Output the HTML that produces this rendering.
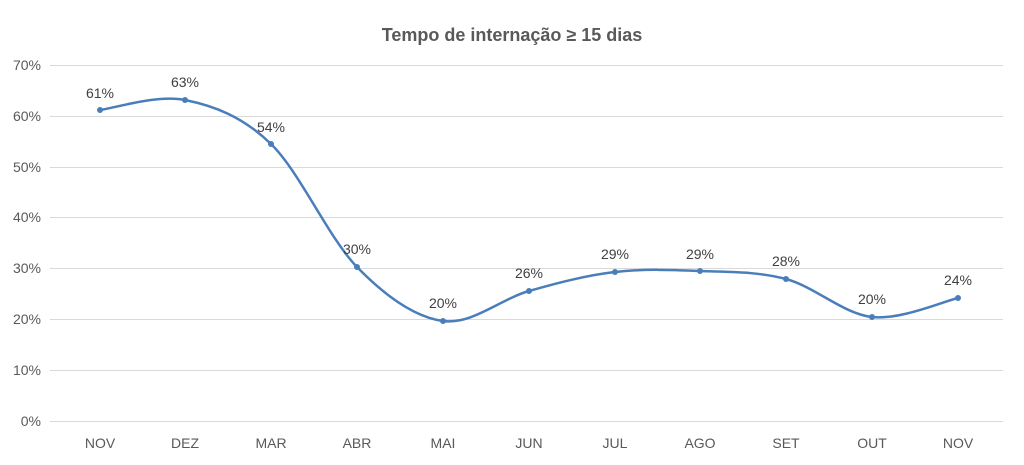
<!DOCTYPE html>
<html><head><meta charset="utf-8"><style>
html,body{margin:0;padding:0;background:#fff;}
svg{display:block;font-family:"Liberation Sans",Arial,sans-serif;}
</style></head><body>
<svg width="1024" height="465" viewBox="0 0 1024 465" xmlns="http://www.w3.org/2000/svg">
<rect width="1024" height="465" fill="#fff"/>
<text x="512" y="41" text-anchor="middle" font-size="18" font-weight="bold" fill="#595959">Tempo de internação ≥ 15 dias</text>
<g stroke="#d9d9d9" stroke-width="1">
<line x1="50" y1="65.5" x2="1003" y2="65.5"/>
<line x1="50" y1="116.5" x2="1003" y2="116.5"/>
<line x1="50" y1="167.5" x2="1003" y2="167.5"/>
<line x1="50" y1="217.5" x2="1003" y2="217.5"/>
<line x1="50" y1="268.5" x2="1003" y2="268.5"/>
<line x1="50" y1="319.5" x2="1003" y2="319.5"/>
<line x1="50" y1="370.5" x2="1003" y2="370.5"/>
<line x1="50" y1="421.5" x2="1003" y2="421.5"/>
</g>
<g font-size="14" fill="#595959" text-anchor="end">
<text x="41" y="70">70%</text><text x="41" y="121">60%</text><text x="41" y="172">50%</text>
<text x="41" y="222">40%</text><text x="41" y="273">30%</text><text x="41" y="324">20%</text>
<text x="41" y="375">10%</text><text x="41" y="426">0%</text>
</g>
<g font-size="14" fill="#595959" text-anchor="middle">
<text x="100" y="448">NOV</text><text x="185" y="448">DEZ</text><text x="271" y="448">MAR</text>
<text x="357" y="448">ABR</text><text x="443" y="448">MAI</text><text x="529" y="448">JUN</text>
<text x="615" y="448">JUL</text><text x="700" y="448">AGO</text><text x="786" y="448">SET</text>
<text x="872" y="448">OUT</text><text x="958" y="448">NOV</text>
</g>
<path d="M100,110 C114.2,108.3 156.5,94.3 185,100 C213.5,105.7 242.3,116.2 271,144 C299.7,171.8 328.3,237.5 357,267 C385.7,296.5 414.3,317 443,321 C471.7,325 500.3,299.2 529,291 C557.7,282.8 586.5,275.3 615,272 C643.5,268.7 671.5,269.8 700,271 C728.5,272.2 757.3,271.3 786,279 C814.7,286.7 843.3,313.8 872,317 C900.7,320.2 943.7,301.2 958,298" fill="none" stroke="#4a7ebb" stroke-width="2.5"/>
<g fill="#4a7ebb">
<circle cx="100" cy="110" r="3"/><circle cx="185" cy="100" r="3"/><circle cx="271" cy="144" r="3"/>
<circle cx="357" cy="267" r="3"/><circle cx="443" cy="321" r="3"/><circle cx="529" cy="291" r="3"/>
<circle cx="615" cy="272" r="3"/><circle cx="700" cy="271" r="3"/><circle cx="786" cy="279" r="3"/>
<circle cx="872" cy="317" r="3"/><circle cx="958" cy="298" r="3"/>
</g>
<g font-size="14" fill="#404040" text-anchor="middle">
<text x="100" y="98">61%</text><text x="185" y="87">63%</text><text x="271" y="132">54%</text>
<text x="357" y="254">30%</text><text x="443" y="308">20%</text><text x="529" y="278">26%</text>
<text x="615" y="259">29%</text><text x="700" y="259">29%</text><text x="786" y="266">28%</text>
<text x="872" y="304">20%</text><text x="958" y="285">24%</text>
</g>
</svg>
</body></html>
